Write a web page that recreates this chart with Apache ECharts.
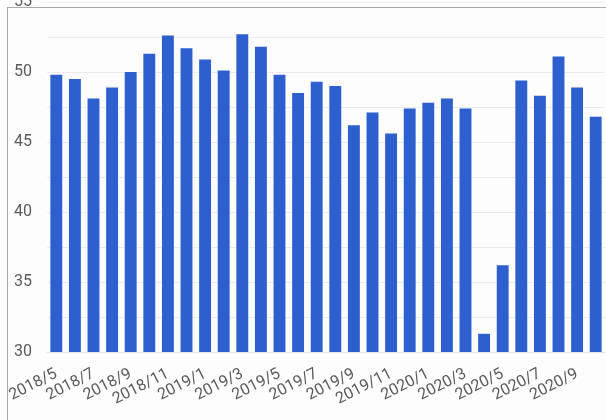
<!DOCTYPE html>
<html>
<head>
<meta charset="utf-8">
<script src="https://cdn.jsdelivr.net/npm/echarts@6/dist/echarts.min.js"></script>
<style>
  html, body { margin: 0; padding: 0; background: #ffffff; }
  #wrap { position: relative; width: 606px; height: 420px; overflow: hidden; background: #fdfdfd; }
  #frame { position: absolute; left: 7px; top: 7px; right: -2px; bottom: -2px;
           border-left: 1px solid #a9a9a9; border-top: 1px solid #a9a9a9; pointer-events: none; }
  #chart { position: absolute; left: 0; top: 0; width: 606px; height: 420px; }
</style>
</head>
<body>
<div id="wrap">
  <div id="chart"></div>
  <div id="frame"></div>
</div>
<script>
// Monthly index, May 2018 – Oct 2020
const months = [
  '2018/5', '2018/6', '2018/7', '2018/8', '2018/9', '2018/10', '2018/11', '2018/12',
  '2019/1', '2019/2', '2019/3', '2019/4', '2019/5', '2019/6', '2019/7', '2019/8',
  '2019/9', '2019/10', '2019/11', '2019/12', '2020/1', '2020/2', '2020/3', '2020/4',
  '2020/5', '2020/6', '2020/7', '2020/8', '2020/9', '2020/10'
];
const values = [
  49.8, 49.5, 48.1, 48.9, 50.0, 51.3, 52.6, 51.7,
  50.9, 50.1, 52.7, 51.8, 49.8, 48.5, 49.3, 49.0,
  46.2, 47.1, 45.6, 47.4, 47.8, 48.1, 47.4, 31.3,
  36.2, 49.4, 48.3, 51.1, 48.9, 46.8
];
const yMin = 30, yMax = 55, yStep = 2.5;

const labelFont = 'Roboto, Arial, sans-serif';

const chart = echarts.init(document.getElementById('chart'), null, { renderer: 'canvas' });
chart.setOption({
  animation: false,
  backgroundColor: 'transparent',
  grid: { left: 47, right: 1, top: 2, bottom: 68, containLabel: false, outerBoundsMode: 'none' },
  xAxis: {
    type: 'category',
    data: months,
    axisTick: { show: false },
    axisLine: { show: true, lineStyle: { color: '#e4e4e4', width: 1 } },
    axisLabel: {
      interval: 1,
      rotate: 27,
      margin: 21,
      color: '#5a5a5a',
      fontSize: 16,
      fontFamily: labelFont
    }
  },
  yAxis: {
    type: 'value',
    min: yMin,
    max: yMax,
    interval: yStep,
    axisLine: { show: false },
    axisTick: { show: false },
    splitLine: { show: true, lineStyle: { color: '#ebebeb', width: 1 } },
    axisLabel: {
      margin: 15,
      color: '#5a5a5a',
      fontSize: 16,
      fontFamily: labelFont,
      formatter: v => (v % 5 === 0 ? String(v) : '')
    }
  },
  series: [{
    type: 'bar',
    data: values,
    barWidth: '64%',
    itemStyle: { color: '#2d5fce' }
  }]
});
</script>
</body>
</html>
